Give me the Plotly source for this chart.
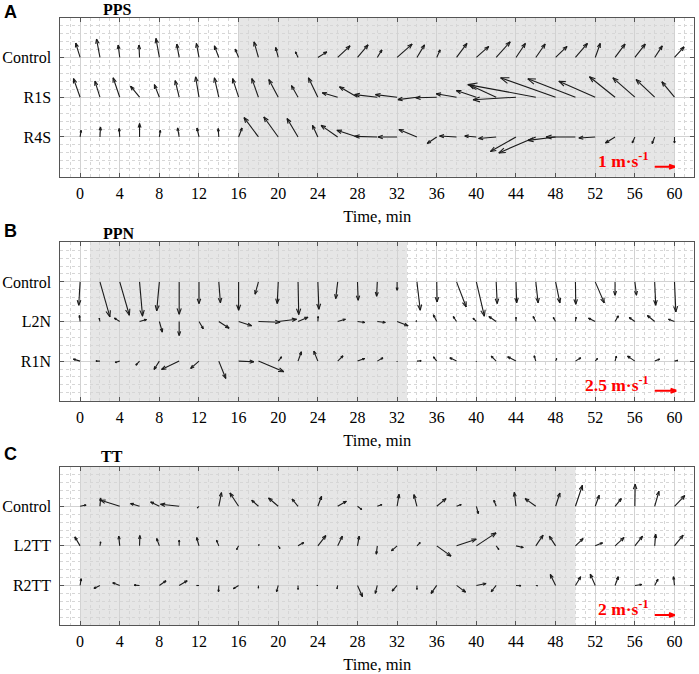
import math
import plotly.graph_objects as go

# ---------------- data (m/s), one arrow every 2 min ----------------
minutes = list(range(0, 61, 2))

# Panel A: PPS
pps_rows = ["Control", "R1S", "R4S"]
pps_control_u = [-0.22, -0.17, -0.08, -0.03, -0.17, -0.12, -0.13, -0.22, -0.17, -0.22, -0.13, -0.13, 0.45, 0.62, 0.53, 0.23,
                 0.75, 0.38, 0.17, 0.52, 0.62, 0.70, 0.47, 0.47, 0.57, 0.60, 0.25, 0.50, 0.52, 0.38, 0.48]
pps_control_v = [0.72, 0.92, 0.62, 0.62, 0.95, 0.67, 0.70, 0.58, 0.42, 0.78, 0.50, 0.28, 0.28, 0.58, 0.63, 0.38,
                 0.67, 0.63, 0.38, 0.70, 0.55, 0.78, 0.70, 0.67, 0.55, 0.70, 0.70, 0.67, 0.67, 0.58, 0.53]
pps_r1s_u = [-0.33, -0.25, -0.33, -0.45, -0.25, -0.20, -0.17, -0.22, -0.30, -0.33, -0.47, -0.33, -0.47, -0.77, -0.90, -1.13,
             -1.08, -0.95, -1.05, -1.02, -1.00, -1.35, -2.15, -3.40, -2.75, -2.38, -1.82, -1.28, -1.10, -0.93, -0.63]
pps_r1s_v = [0.93, 0.80, 0.97, 0.55, 0.63, 0.83, 1.02, 0.97, 0.93, 0.93, 0.88, 0.58, 0.97, 0.22, 0.52, 0.13,
             0.13, -0.12, -0.03, 0.17, 0.33, 0.62, -0.13, 0.63, 0.97, 0.92, 0.80, 1.02, 0.97, 0.88, 0.77]
pps_r4s_u = [0.05, 0.03, -0.03, 0.0, 0.05, -0.08, -0.10, -0.03, 0.17, -0.72, -0.72, -0.55, -0.27, -0.83, -1.03, -1.13,
             -0.95, -0.90, -0.48, -0.85, -0.58, -0.88, -1.28, -1.85, -1.38, -1.47, -0.82, -0.48, -0.13, -0.13, 0.0]
pps_r4s_v = [0.33, 0.50, 0.42, 0.67, 0.33, 0.45, 0.45, 0.42, 0.45, 0.97, 1.00, 0.92, 0.58, 0.58, 0.33, 0.03,
             0.0, 0.37, -0.33, 0.05, 0.05, -0.08, -0.73, -0.80, -0.17, 0.0, -0.05, -0.30, -0.30, -0.33, -0.30]

# Panel B: PPN
ppn_rows = ["Control", "L2N", "R1N"]
ppn_control_u = [-0.16, 1.16, 1.12, 0.35, -0.31, 0.0, 0.0, 0.19, 0.0, -0.39, -0.12, 0.08, 0.12, -0.23, 0.08, -0.08,
                 0.0, 0.39, 0.04, 1.12, 0.93, 0.12, 0.08, 0.27, 0.50, 0.04, 1.05, 0.0, 0.19, 0.12, 0.16]
ppn_control_v = [-2.71, -4.07, -3.88, -3.99, -3.37, -3.76, -2.52, -2.44, -3.29, -1.43, -2.52, -3.80, -3.18, -1.94, -2.13, -1.67,
                 -0.97, -3.29, -2.33, -2.91, -3.99, -2.52, -2.44, -2.44, -2.44, -2.60, -2.44, -1.55, -1.55, -2.71, -3.49]
ppn_l2n_u = [-0.08, -0.08, -0.62, 0.81, 0.35, 0.0, 0.50, 1.20, 1.51, 2.52, 2.13, 1.16, 0.03, 0.90, 0.85, 0.93,
             1.28, -0.12, -0.39, -0.39, -0.39, -0.85, 0.0, -0.31, -0.27, 0.08, -0.78, 0.39, -0.66, -0.85, -0.70]
ppn_l2n_v = [0.70, 0.39, 0.39, 0.23, -1.24, -1.63, -0.85, -0.78, -0.50, -0.08, 0.27, 0.50, 0.58, 0.27, -0.12, -0.12,
             -0.50, 0.08, 0.78, 0.58, 0.39, 0.58, 0.50, 0.58, 0.47, 0.50, 0.39, 0.66, 0.47, 0.70, 0.27]
ppn_r1n_u = [-0.78, -0.47, -0.54, -0.43, -0.62, -2.05, -0.97, 0.81, 1.78, 2.95, 0.39, 0.39, -0.47, 0.62, 0.85, 0.66,
             0.0, 0.50, -0.39, -0.78, 0.0, -0.58, -0.97, -0.19, 0.12, 0.62, 0.27, 0.16, -0.85, 0.58, 0.39]
ppn_r1n_v = [0.23, 0.0, -0.16, -0.47, -0.97, -0.97, -0.85, -2.02, -0.08, -1.24, 0.50, 1.09, 1.16, 0.62, 0.31, 0.39,
             -0.08, 0.04, 0.50, 0.39, -0.08, 0.58, 0.50, 0.62, 0.31, 0.39, 0.31, 0.58, 0.58, 0.23, 0.08]

# Panel C: TT
tt_rows = ["Control", "L2TT", "R2TT"]
tt_control_u = [0.60, 0.07, -1.90, -0.90, -0.87, -1.87, -0.17, 0.27, -0.87, -0.67, -0.97, -0.60, 0.37, 0.87, 0.43, 0.47,
                0.20, -0.30, 0.93, 0.47, 0.20, -0.23, -0.17, -1.07, 0.43, 0.70, 0.40, 0.63, 0.03, 0.43, 1.03]
tt_control_v = [0.13, 0.83, 0.60, 0.27, 0.43, 0.20, -0.17, 1.37, 1.33, 0.60, 0.83, 0.73, 1.00, 0.50, -0.33, 0.17,
                1.20, 1.17, 0.77, 0.17, -0.73, 0.60, 1.40, 0.77, 1.33, 2.10, 1.10, 0.77, 2.20, 1.50, 1.07]
tt_l2tt_u = [-0.53, 0.07, -0.10, 0.03, -0.27, 0.0, -0.23, -0.23, -0.20, 0.07, 0.17, 0.57, 0.80, 0.47, 0.17, -0.10,
             -0.57, 0.33, 1.43, 1.97, 1.97, 0.27, 0.73, 0.73, -0.63, 0.77, 0.73, 0.90, 0.77, 0.10, 0.87]
tt_l2tt_v = [0.90, 0.40, 0.97, 1.03, 0.73, 0.57, 0.83, 0.57, -0.37, 0.13, -0.27, 0.33, 1.03, 0.97, 0.97, -0.83,
             -0.50, 0.33, -1.03, 0.67, 1.30, -0.37, -0.17, 1.07, 0.97, 0.73, 0.30, 0.83, 0.97, 1.17, 1.07]
tt_r2tt_u = [0.10, -0.60, -0.70, -0.53, 0.67, 0.80, -0.23, -0.03, -0.53, 0.0, -0.17, 0.0, -0.10, -0.07, 0.50, -0.20,
             -0.50, 0.0, -0.57, 0.90, 0.97, -0.50, 0.50, 0.17, -0.53, 0.53, -0.50, 0.33, 0.70, 0.33, -0.10]
tt_r2tt_v = [0.67, -0.30, 0.27, 0.03, 0.47, 0.47, 0.0, -0.63, -0.33, -0.27, -0.63, -0.40, 0.0, -0.33, -1.13, -0.80,
             -0.57, -0.40, -0.80, -0.67, 0.20, -0.63, -0.03, -0.03, 1.10, 0.87, 1.13, 0.87, 0.10, 0.63, 0.87]

panel_letters = ["A", "B", "C"]
panel_titles = ["PPS", "PPN", "TT"]
shade_spans = [(16, 60), (1, 33), (0, 50)]
ref_speeds = [1, 2.5, 2]
ref_labels = ["1 m·s<sup>-1</sup>", "2.5 m·s<sup>-1</sup>", "2 m·s<sup>-1</sup>"]
x_ticks = list(range(0, 61, 4))

panels = [
    (pps_rows, [(pps_control_u, pps_control_v), (pps_r1s_u, pps_r1s_v), (pps_r4s_u, pps_r4s_v)]),
    (ppn_rows, [(ppn_control_u, ppn_control_v), (ppn_l2n_u, ppn_l2n_v), (ppn_r1n_u, ppn_r1n_v)]),
    (tt_rows, [(tt_control_u, tt_control_v), (tt_l2tt_u, tt_l2tt_v), (tt_r2tt_u, tt_r2tt_v)]),
]

# ---------------- styling / geometry ----------------
W, H = 699, 674
PX_LEFT, PX_RIGHT = 60.3, 694.3
panel_px = [(17.7, 176.7), (242.3, 400.7), (466.7, 625.0)]
px_per_ms = [20.0, 8.6, 10.0]                                  # quiver scale per panel
XR = (-2, 62)
YR = (0, 4)
SERIF = "Liberation Serif, Times New Roman, serif"
SANS = "Liberation Sans, Arial, sans-serif"

fig = go.Figure()


def arrow_path(x0, y0, u, v, s, ppx, ppy, xs, ys, head_max=None):
    dxp, dyp = u * s, v * s
    L = math.hypot(dxp, dyp)
    x1 = x0 + dxp / ppx
    y1 = y0 + dyp / ppy
    xs += [x0, x1, None]
    ys += [y0, y1, None]
    if L < 0.6:
        return
    h = min(0.35 * L, 3 + 0.1 * L)
    if head_max:
        h = head_max
    a = math.radians(20)
    ux, uy = dxp / L, dyp / L
    for sgn in (1, -1):
        bx = -h * (math.cos(a) * ux - sgn * math.sin(a) * uy)
        by = -h * (math.cos(a) * uy + sgn * math.sin(a) * ux)
        xs += [x1, x1 + bx / ppx]
        ys += [y1, y1 + by / ppy]
        xs.append(None)
        ys.append(None)


layout_axes = {}
shapes = []
annotations = []
for i, (rows, series) in enumerate(panels):
    top, bot = panel_px[i]
    dom_y = [1 - bot / H, 1 - top / H]
    dom_x = [PX_LEFT / W, PX_RIGHT / W]
    ppx = (PX_RIGHT - PX_LEFT) / (XR[1] - XR[0])
    ppy = (bot - top) / (YR[1] - YR[0])
    s = px_per_ms[i]
    xa = "x" if i == 0 else f"x{i+1}"
    ya = "y" if i == 0 else f"y{i+1}"
    xs, ys = [], []
    for r, (uu, vv) in enumerate(series):
        yrow = 3 - r
        for m, u, v in zip(minutes, uu, vv):
            arrow_path(m, yrow, u, v, s, ppx, ppy, xs, ys)
    fig.add_trace(go.Scatter(x=xs, y=ys, mode="lines", xaxis=xa, yaxis=ya,
                             line=dict(color="#1a1a1a", width=1.1), hoverinfo="skip",
                             showlegend=False))
    # reference arrow
    rx, ry = [], []
    arrow_path(58, 0.25, ref_speeds[i], 0, s, ppx, ppy, rx, ry, head_max=6)
    fig.add_trace(go.Scatter(x=rx, y=ry, mode="lines", xaxis=xa, yaxis=ya,
                             line=dict(color="#ff0000", width=2), hoverinfo="skip",
                             showlegend=False))
    annotations.append(dict(x=57.6, y=0.42, xref=xa, yref=ya, text=f"<b>{ref_labels[i]}</b>",
                            showarrow=False, xanchor="right", yanchor="middle",
                            font=dict(family=SERIF, size=17.5, color="#ff0000")))

    kx = "xaxis" if i == 0 else f"xaxis{i+1}"
    ky = "yaxis" if i == 0 else f"yaxis{i+1}"
    layout_axes[kx] = dict(
        domain=dom_x, range=list(XR), anchor=ya, tickvals=x_ticks, automargin=False,
        ticktext=[str(t) for t in x_ticks], ticks="inside", ticklen=4, tickcolor="#555",
        showline=True, mirror="ticks", linecolor="#555", linewidth=1,
        showgrid=True, gridcolor="#d2d2d2", gridwidth=1, zeroline=False,
        tickfont=dict(family=SERIF, size=16, color="black"), ticklabelstandoff=2,
        title=dict(text="Time, min", font=dict(family=SERIF, size=16.5, color="black"), standoff=9),
        minor=dict(dtick=1, tick0=0, showgrid=True, gridcolor="#d6d6d6", griddash="dot", gridwidth=1),
        fixedrange=True,
    )
    layout_axes[ky] = dict(
        domain=dom_y, range=list(YR), anchor=xa, tickvals=[3, 2, 1], ticktext=rows, automargin=False,
        ticks="inside", ticklen=4, tickcolor="#555",
        showline=True, mirror="ticks", linecolor="#555", linewidth=1,
        showgrid=True, gridcolor="#d2d2d2", gridwidth=1, zeroline=False,
        tickfont=dict(family=SERIF, size=16, color="black"), ticklabelstandoff=5,
        minor=dict(dtick=0.2, tick0=0, showgrid=True, gridcolor="#d6d6d6", griddash="dot", gridwidth=1),
        fixedrange=True,
    )
    x0s, x1s = shade_spans[i]
    shapes.append(dict(type="rect", xref=xa, yref=f"{ya} domain", x0=x0s, x1=x1s, y0=0, y1=1,
                       fillcolor="#e6e6e6", line=dict(width=0), layer="below"))

letter_y = [12, 231, 454]
title_pos = [(117, 10), (119, 233), (112, 456)]
for i in range(3):
    annotations.append(dict(x=10 / W, y=1 - letter_y[i] / H, xref="paper", yref="paper",
                            text=f"<b>{panel_letters[i]}</b>", showarrow=False,
                            xanchor="center", yanchor="middle",
                            font=dict(family=SANS, size=18, color="black")))
    tx, ty = title_pos[i]
    annotations.append(dict(x=tx / W, y=1 - ty / H, xref="paper", yref="paper",
                            text=f"<b>{panel_titles[i]}</b>", showarrow=False,
                            xanchor="center", yanchor="middle",
                            font=dict(family=SERIF, size=16, color="black")))

fig.update_layout(width=W, height=H, margin=dict(l=0, r=0, t=0, b=0),
                  paper_bgcolor="white", plot_bgcolor="white",
                  shapes=shapes, annotations=annotations, showlegend=False,
                  **layout_axes)

fig.write_html("out.html", config={"displayModeBar": False},
               post_script="document.body.style.margin='0';document.body.style.overflow='hidden';")
